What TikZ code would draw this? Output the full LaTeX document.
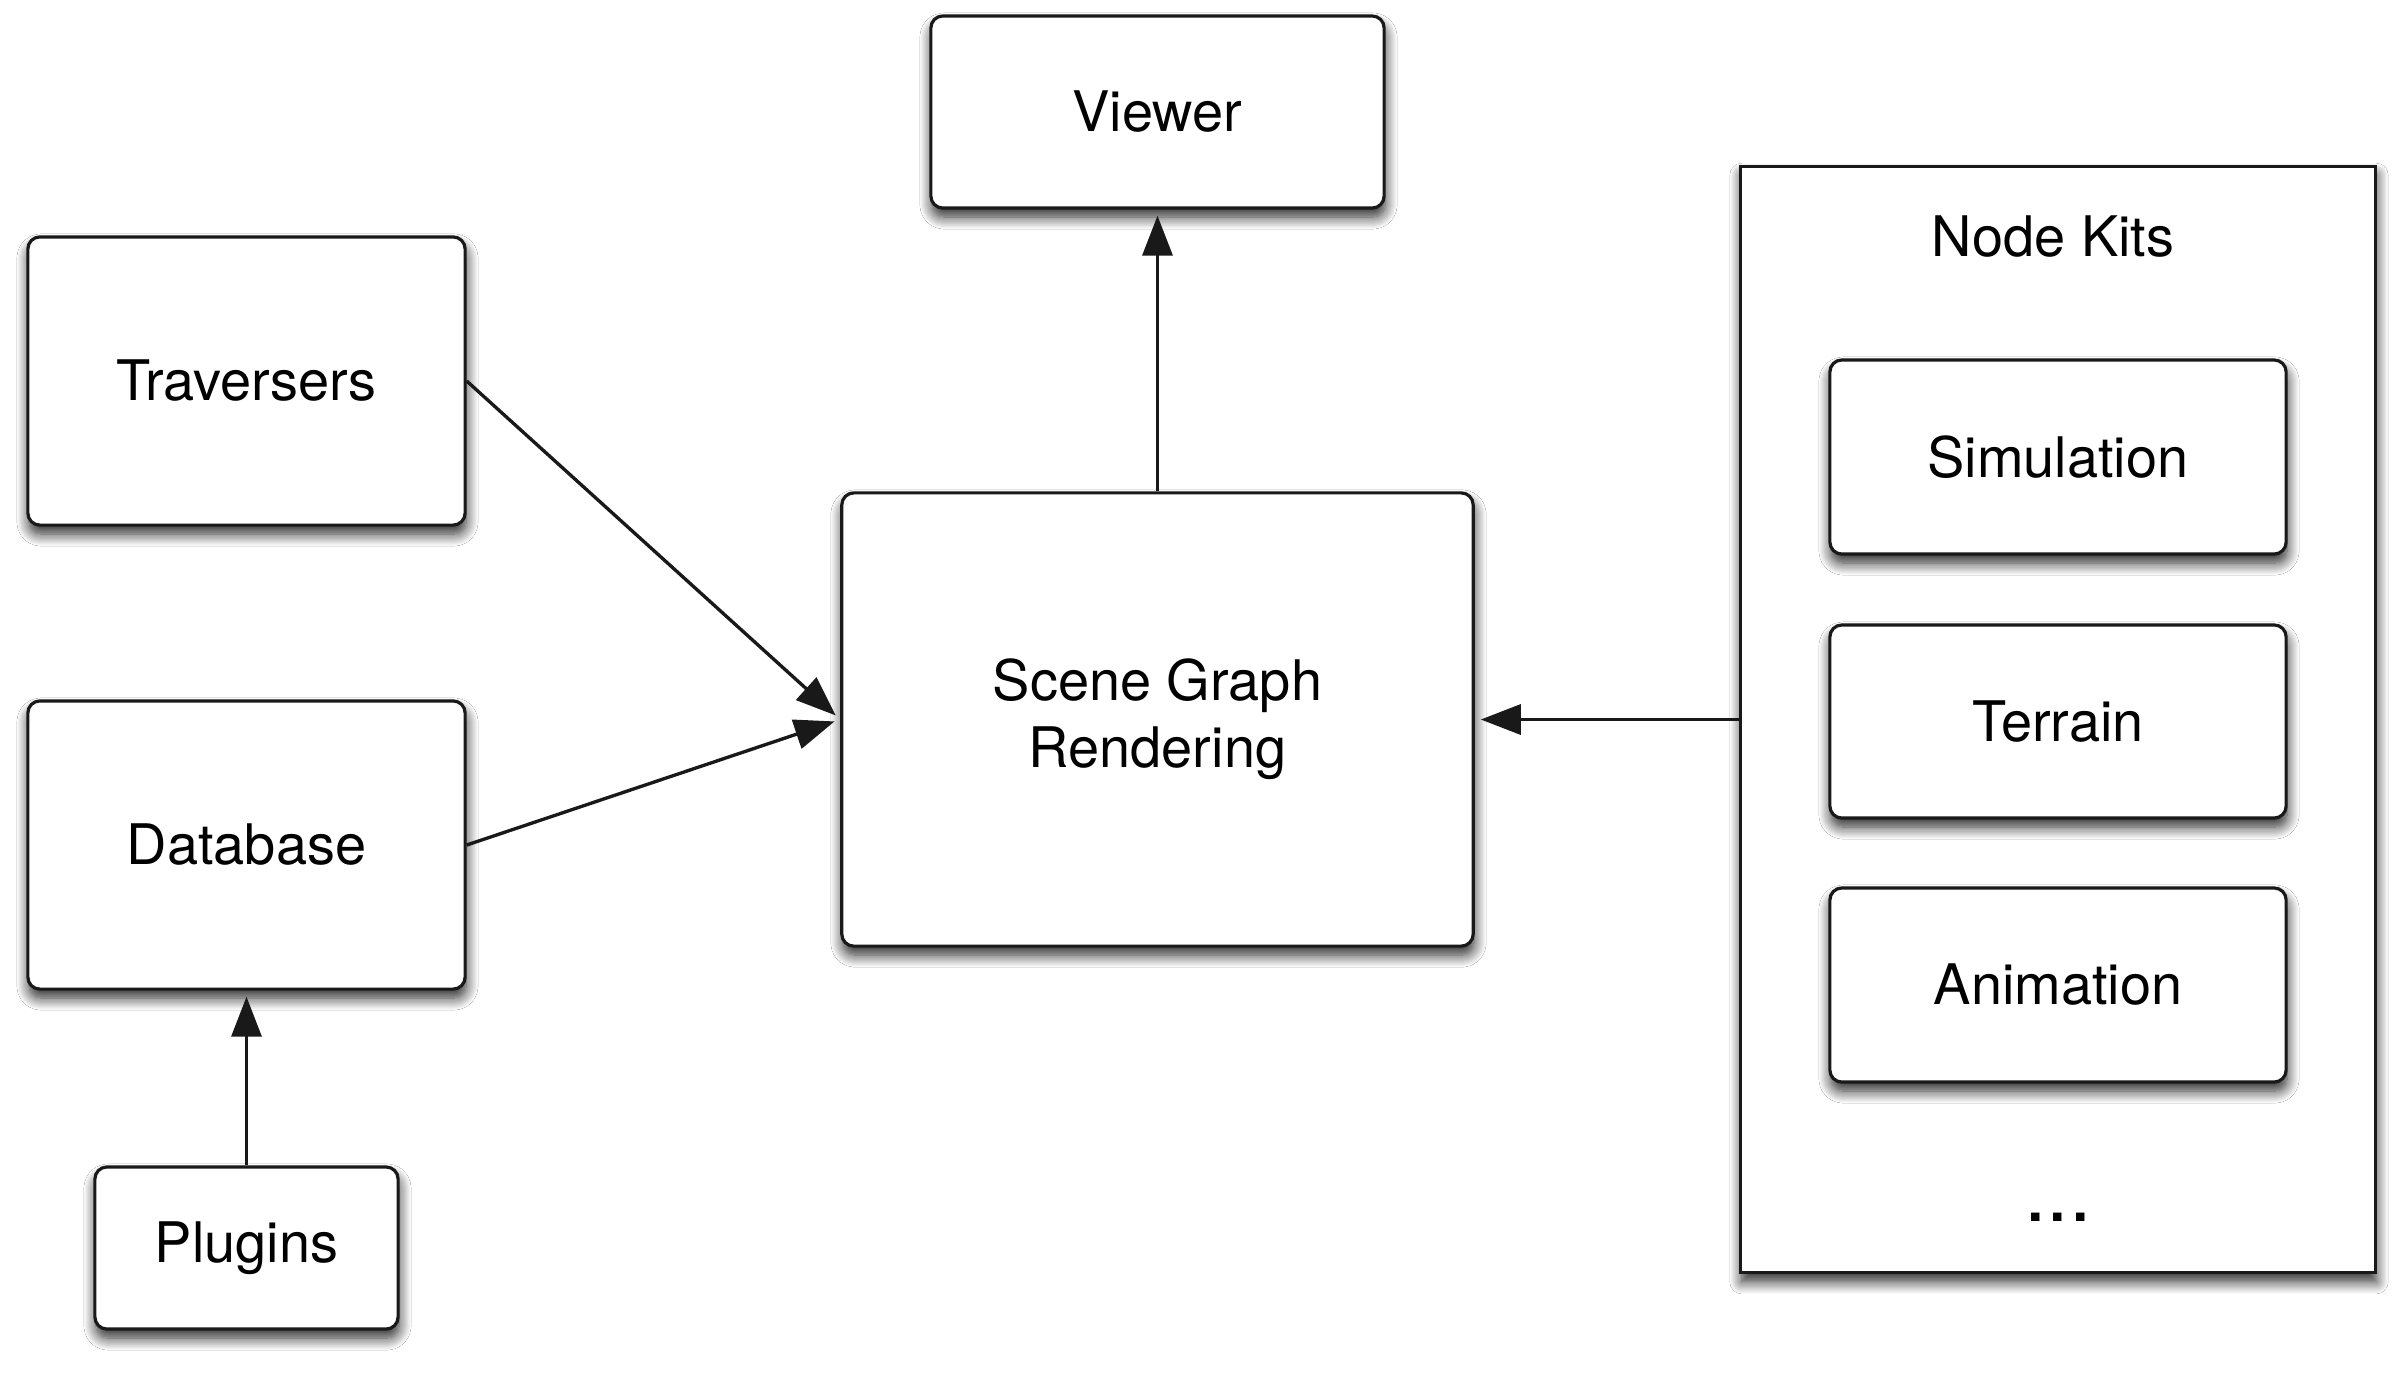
\documentclass[tikz,border=0pt]{standalone}
\usepackage{fontspec}
\setmainfont{TeX Gyre Heros}
\usetikzlibrary{arrows.meta,shadows.blur}
\begin{document}
\begin{tikzpicture}[x=0.01cm,y=-0.01cm,
  txt/.style={font=\fontsize{15.9}{19}\selectfont, align=center, inner sep=0pt},
  shade box/.style={blur shadow={shadow xshift=0.01cm, shadow yshift=-0.09cm, shadow blur radius=0.12cm, shadow opacity=85, shadow blur steps=12}},
  box/.style={txt, draw=black!90, line width=0.9pt, rounded corners=0.12cm, fill=white, shade box},
  outerbox/.style={draw=black!90, line width=0.9pt, fill=white, inner sep=0pt, shade box},
  conn/.style={line width=0.95pt, draw=black!90, -{Triangle[length=0.4cm,width=0.3cm]}, shorten >=0.06cm}]
\useasboundingbox (0,0) rectangle (2400,1372);
\fill[white] (0,0) rectangle (2400,1372);

\node[box, minimum width=4.53cm, minimum height=1.92cm] (viewer) at (1157.5,112) {Viewer};
\node[box, minimum width=4.37cm, minimum height=2.88cm] (trav) at (246.5,381) {Traversers};
\node[box, minimum width=4.37cm, minimum height=2.88cm] (db) at (246.5,845) {Database};
\node[box, minimum width=3.03cm, minimum height=1.62cm] (plug) at (246.5,1248) {Plugins};
\node[box, minimum width=6.31cm, minimum height=4.53cm] (scene) at (1157.5,719.5) {Scene Graph\\Rendering};

\node[outerbox, minimum width=6.34cm, minimum height=11.06cm] (kits) at (2058,719.5) {};
\node[txt] (kitslabel) at (2053,237) {Node Kits};
\node[box, minimum width=4.56cm, minimum height=1.94cm] (sim) at (2058,457) {Simulation};
\node[box, minimum width=4.56cm, minimum height=1.93cm] (terr) at (2058,721.5) {Terrain};
\node[box, minimum width=4.56cm, minimum height=1.94cm] (anim) at (2058,985) {Animation};
\node[inner sep=0pt, font=\fontsize{23}{28}\selectfont] (dots) at (2058,1217) {...};

\draw[conn] (trav.east) -- (scene.west);
\draw[conn] (db.east) -- (scene.west);
\draw[conn] (plug.north) -- (db.south);
\draw[conn] (scene.north) -- (viewer.south);
\draw[conn] (kits.west) -- (scene.east);
\end{tikzpicture}
\end{document}
